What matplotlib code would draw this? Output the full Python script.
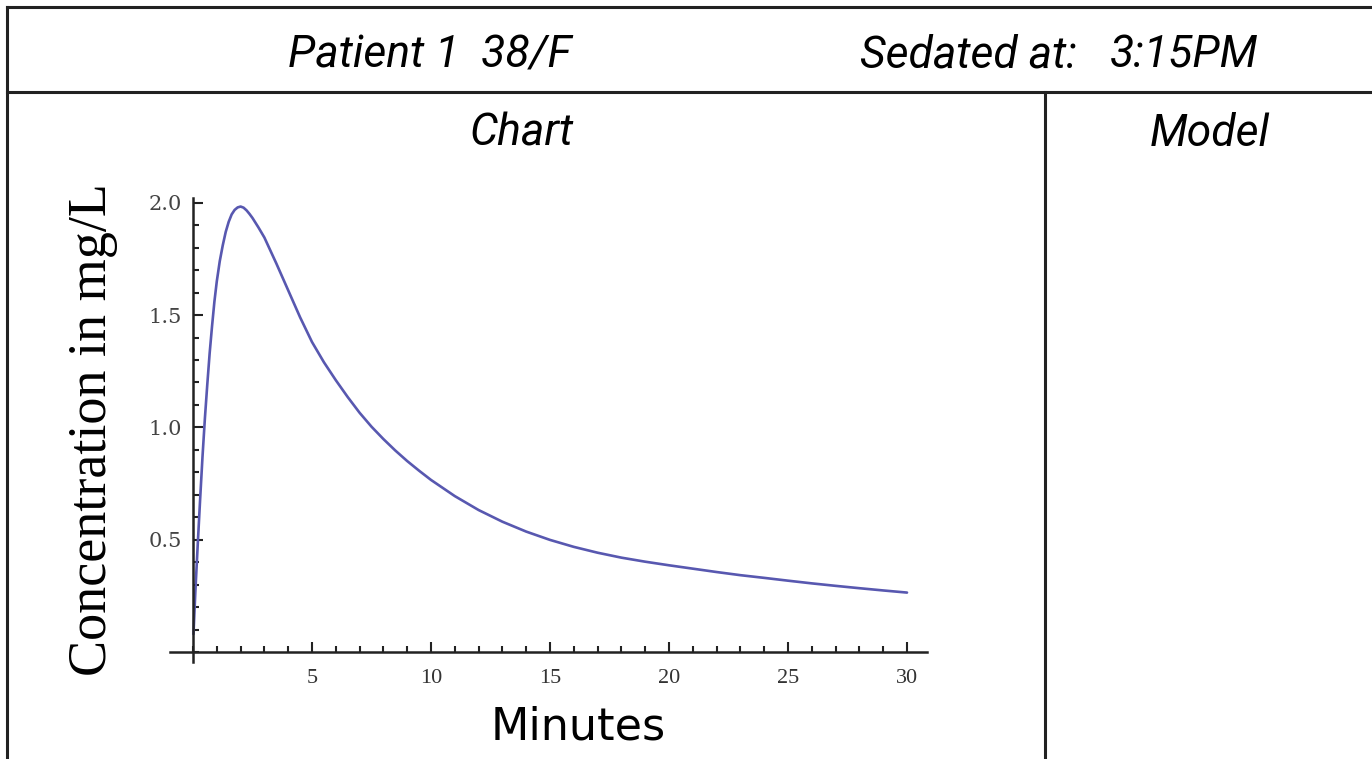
import matplotlib
matplotlib.use("Agg")
import matplotlib.pyplot as plt
from matplotlib.lines import Line2D
from matplotlib.ticker import MultipleLocator

# === data
minutes = [0.02, 0.1, 0.2, 0.3, 0.4, 0.5, 0.6, 0.7, 0.8, 0.9, 1.0, 1.125, 1.25, 1.375, 1.5,
           1.625, 1.75, 1.875, 2.0, 2.125, 2.25, 2.375, 2.5, 2.75, 3.0, 3.5, 4.0, 4.5, 5.0,
           5.5, 6.0, 6.5, 7.0, 7.5, 8.0, 8.5, 9.0, 9.5, 10.0, 11.0, 12.0, 13.0, 14.0, 15.0,
           16.0, 17.0, 18.0, 19.0, 20.0, 21.0, 22.0, 23.0, 24.0, 25.0, 26.0, 27.0, 28.0,
           29.0, 30.0]
conc = [0.08, 0.27, 0.48, 0.68, 0.87, 1.04, 1.19, 1.33, 1.45, 1.56, 1.65, 1.74, 1.81, 1.87, 1.915,
        1.948, 1.968, 1.979, 1.983, 1.978, 1.966, 1.950, 1.932, 1.890, 1.845, 1.73, 1.61, 1.49, 1.38,
        1.29, 1.21, 1.135, 1.065, 1.003, 0.948, 0.897, 0.850, 0.807, 0.766, 0.694, 0.632, 0.580, 0.536, 0.499,
        0.468, 0.442, 0.420, 0.402, 0.386, 0.371, 0.356, 0.342, 0.330, 0.3175, 0.3055, 0.2945, 0.284,
        0.274, 0.2645]

x_major = [5, 10, 15, 20, 25, 30]
y_major = [0.5, 1.0, 1.5, 2.0]

W, H = 1372, 759
ink = "#222222"
hand = ["Roboto", "DejaVu Sans"]

fig = plt.figure(figsize=(W / 100, H / 100), dpi=100)
fig.patch.set_facecolor("white")


def px(x, y):
    return x / W, 1 - y / H


# === frame lines (header box, divider)
for (x0, y0), (x1, y1) in [((7, 7), (W, 7)), ((7, 7), (7, H)), ((7, 92), (W, 92)), ((1045, 92), (1045, H))]:
    a, b = px(x0, y0)
    c, d = px(x1, y1)
    fig.add_artist(Line2D([a, c], [b, d], transform=fig.transFigure, color=ink, lw=2.2))

# === header texts
hstyle = dict(family=hand, style="italic", weight="normal", fontsize=32, color="black")
fig.text(*px(288, 68), "Patient 1  38/F", **hstyle)
fig.text(*px(860, 68), "Sedated at:", **hstyle)
fig.text(*px(1110, 68), "3:15PM", **hstyle)
fig.text(*px(522, 146), "Chart", ha="center", **hstyle)
fig.text(*px(1210, 146), "Model", ha="center", **hstyle)

# === chart
ax = fig.add_axes([170 / W, 1 - 662 / H, 757 / W, 464 / H])
ax.plot(minutes, conc, color="#5858b0", lw=1.9, solid_capstyle="round", solid_joinstyle="round")
ax.set_xlim(-0.966, 30.84)
ax.set_ylim(-0.0445, 2.021)

for s in ["top", "right"]:
    ax.spines[s].set_visible(False)
for s in ["left", "bottom"]:
    ax.spines[s].set_position(("data", 0))
    ax.spines[s].set_linewidth(1.8)
    ax.spines[s].set_color(ink)

ax.set_xticks(x_major)
ax.set_yticks(y_major)
ax.set_yticklabels(["%.1f" % v for v in y_major])
ax.xaxis.set_minor_locator(MultipleLocator(1))
ax.yaxis.set_minor_locator(MultipleLocator(0.1))
ax.tick_params(which="both", direction="in", color=ink, width=1.5)
ax.tick_params(which="major", length=7)
ax.tick_params(which="minor", length=4.5)
ax.tick_params(axis="x", pad=12, labelsize=16, labelcolor="#333333")
ax.tick_params(axis="y", pad=8, labelsize=15, labelcolor="#444444")
for lab in ax.get_xticklabels():
    lab.set_family("Liberation Serif")
for lab in ax.get_yticklabels():
    lab.set_family("DejaVu Serif")
ax.patch.set_alpha(0)

fig.text(*px(93, 430), "Concentration in mg/L", family="Liberation Serif", fontsize=39,
         rotation=90, ha="center", va="center", color="black")
fig.text(*px(578, 740), "Minutes", family="DejaVu Sans", fontsize=32, ha="center",
         va="baseline", color="black")

fig.savefig("out.png", dpi=100)
